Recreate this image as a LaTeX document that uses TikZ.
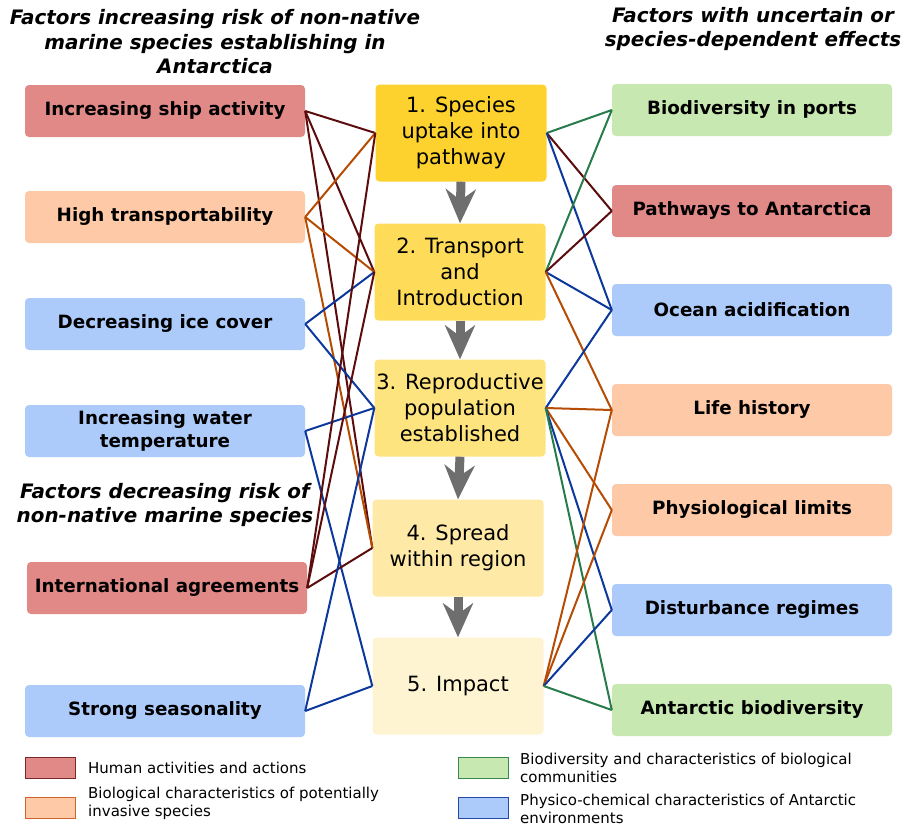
\documentclass[tikz,border=0pt]{standalone}
\usepackage{fontspec}
\setmainfont{DejaVu Sans}
\usepackage{tikz}
\usetikzlibrary{arrows.meta}
\definecolor{humanfill}{RGB}{224,137,135}
\definecolor{biolfill}{RGB}{253,201,166}
\definecolor{physfill}{RGB}{172,202,250}
\definecolor{commfill}{RGB}{200,232,178}
\definecolor{humanline}{RGB}{92,12,12}
\definecolor{biolline}{RGB}{182,76,4}
\definecolor{physline}{RGB}{12,56,156}
\definecolor{commline}{RGB}{40,124,76}
\definecolor{humanedge}{RGB}{120,40,40}
\definecolor{bioledge}{RGB}{204,100,44}
\definecolor{commedge}{RGB}{56,136,72}
\definecolor{physedge}{RGB}{36,72,168}
\definecolor{stageA}{RGB}{253,210,46}
\definecolor{stageB}{RGB}{254,220,90}
\definecolor{stageC}{RGB}{254,228,126}
\definecolor{stageD}{RGB}{254,234,166}
\definecolor{stageE}{RGB}{254,244,210}
\definecolor{flowgray}{RGB}{110,110,110}
\tikzset{
    factor/.style={rectangle, rounded corners=4pt, minimum width=280pt, minimum height=52pt,
        inner sep=0pt, align=center, font=\fontsize{18.3}{23}\selectfont\bfseries},
    stage/.style={rectangle, rounded corners=4pt, minimum width=171pt, minimum height=97pt,
        inner sep=0pt, align=center, font=\fontsize{21}{26}\selectfont},
    heading/.style={align=center, inner sep=0pt, font=\fontsize{19.9}{24.5}\selectfont\bfseries\itshape},
    human/.style={draw=humanline, line width=2pt},
    biol/.style={draw=biolline, line width=2pt},
    phys/.style={draw=physline, line width=2pt},
    comm/.style={draw=commline, line width=2pt},
    flow/.style={draw=flowgray, line width=9pt, -{Stealth[length=34pt,width=30pt,inset=11pt]}},
    key/.style={rectangle, minimum width=50pt, minimum height=21pt, inner sep=0pt, line width=1pt},
    keytext/.style={anchor=west, align=left, inner sep=0pt, font=\fontsize{15}{18}\selectfont}
}
\begin{document}
\begin{tikzpicture}[x=1pt, y=-1pt]
\useasboundingbox (0,0) rectangle (901,828);
% headings
\node[style={heading}] (hincr) at (215,42) {Factors increasing risk of non-native\\marine species establishing in\\Antarctica};
\node[style={heading}] (hunc) at (753,29) {Factors with uncertain or\\species-dependent effects};
\node[style={heading}] (hdecr) at (165,505) {Factors decreasing risk of\\non-native marine species};
% left factors
\node[style={factor}, fill=humanfill] (ship) at (165,111) {Increasing ship activity};
\node[style={factor}, fill=biolfill] (transp) at (165,217) {High transportability};
\node[style={factor}, fill=physfill] (ice) at (165,324) {Decreasing ice cover};
\node[style={factor}, fill=physfill] (temp) at (165,431) {Increasing water\\temperature};
\node[style={factor}, fill=humanfill] (agree) at (167,588) {International agreements};
\node[style={factor}, fill=physfill] (season) at (165,711) {Strong seasonality};
% stages
\node[style={stage}, fill=stageA] (s1) at (461,133) {1. Species\\uptake into\\pathway};
\node[style={stage}, fill=stageB] (s2) at (460,272) {2. Transport\\and\\Introduction};
\node[style={stage}, fill=stageC] (s3) at (460,408) {3. Reproductive\\population\\established};
\node[style={stage}, fill=stageD] (s4) at (458,548) {4. Spread\\within region};
\node[style={stage}, fill=stageE] (s5) at (458,686) {5. Impact};
% right factors
\node[style={factor}, fill=commfill] (ports) at (752,110) {Biodiversity in ports};
\node[style={factor}, fill=humanfill] (paths) at (752,211) {Pathways to Antarctica};
\node[style={factor}, fill=physfill] (acid) at (752,310) {Ocean acidification};
\node[style={factor}, fill=biolfill] (life) at (752,410) {Life history};
\node[style={factor}, fill=biolfill] (physio) at (752,510) {Physiological limits};
\node[style={factor}, fill=physfill] (disturb) at (752,610) {Disturbance regimes};
\node[style={factor}, fill=commfill] (antbio) at (752,710) {Antarctic biodiversity};
% stage arrows
\draw[style={flow}] (s1.south) -- (s2.north);
\draw[style={flow}] (s2.south) -- (s3.north);
\draw[style={flow}] (s3.south) -- (s4.north);
\draw[style={flow}] (s4.south) -- (s5.north);
% left links
\draw[style={human}] (ship.east) -- (s1.west);
\draw[style={human}] (ship.east) -- (s2.west);
\draw[style={human}] (ship.east) -- (s4.west);
\draw[style={biol}] (transp.east) -- (s1.west);
\draw[style={biol}] (transp.east) -- (s2.west);
\draw[style={biol}] (transp.east) -- (s4.west);
\draw[style={phys}] (ice.east) -- (s2.west);
\draw[style={phys}] (ice.east) -- (s3.west);
\draw[style={phys}] (temp.east) -- (s3.west);
\draw[style={phys}] (temp.east) -- (s5.west);
\draw[style={human}] (agree.east) -- (s1.west);
\draw[style={human}] (agree.east) -- (s2.west);
\draw[style={human}] (agree.east) -- (s4.west);
\draw[style={phys}] (season.east) -- (s3.west);
\draw[style={phys}] (season.east) -- (s5.west);
% right links
\draw[style={comm}] (s1.east) -- (ports.west);
\draw[style={human}] (s1.east) -- (paths.west);
\draw[style={phys}] (s1.east) -- (acid.west);
\draw[style={comm}] (s2.east) -- (ports.west);
\draw[style={human}] (s2.east) -- (paths.west);
\draw[style={phys}] (s2.east) -- (acid.west);
\draw[style={biol}] (s2.east) -- (life.west);
\draw[style={phys}] (s3.east) -- (acid.west);
\draw[style={biol}] (s3.east) -- (life.west);
\draw[style={biol}] (s3.east) -- (physio.west);
\draw[style={phys}] (s3.east) -- (disturb.west);
\draw[style={comm}] (s3.east) -- (antbio.west);
\draw[style={biol}] (s5.east) -- (life.west);
\draw[style={biol}] (s5.east) -- (physio.west);
\draw[style={phys}] (s5.east) -- (disturb.west);
\draw[style={comm}] (s5.east) -- (antbio.west);
% legend
\node[style={key}, fill=humanfill, draw=humanedge] (khuman) at (50,767.5) {};
\node[style={keytext}] (thuman) at (88,768) {Human activities and actions};
\node[style={key}, fill=biolfill, draw=bioledge] (kbiol) at (50,807.5) {};
\node[style={keytext}] (tbiol) at (88,803) {Biological characteristics of potentially\\invasive species};
\node[style={key}, fill=commfill, draw=commedge] (kcomm) at (483,767.5) {};
\node[style={keytext}] (tcomm) at (520,768) {Biodiversity and characteristics of biological\\communities};
\node[style={key}, fill=physfill, draw=physedge] (kphys) at (483,807.5) {};
\node[style={keytext}] (tphys) at (520,809) {Physico-chemical characteristics of Antarctic\\environments};
\end{tikzpicture}
\end{document}
